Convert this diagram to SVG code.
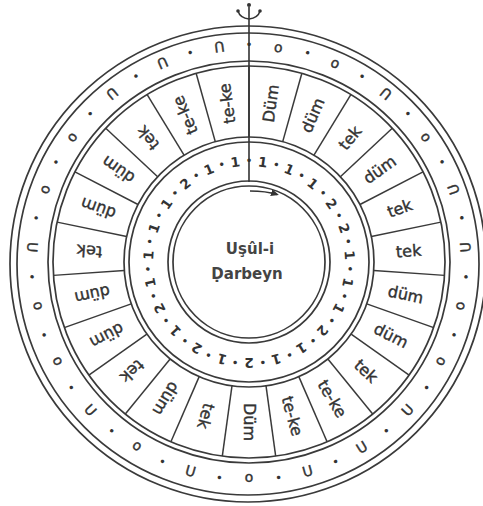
<svg xmlns="http://www.w3.org/2000/svg" width="483" height="506" viewBox="0 0 483 506">
<defs>
<style>
.ring{fill:none;stroke:#3a3a3a;stroke-width:1.7}
.div{stroke:#3a3a3a;stroke-width:1.5}
.lbl{font-family:"DejaVu Sans",sans-serif;font-size:16px;fill:#333;stroke:#333;stroke-width:0.4;text-anchor:middle;dominant-baseline:central}
.num{font-family:"DejaVu Sans",sans-serif;font-size:13.5px;font-weight:bold;fill:#333;text-anchor:middle;dominant-baseline:central}
.sym{font-family:"DejaVu Sans",sans-serif;font-size:14px;fill:#333;stroke:#333;stroke-width:0.4;text-anchor:middle;dominant-baseline:central}
.dot{font-family:"DejaVu Sans",sans-serif;font-size:12px;fill:#333;text-anchor:middle;dominant-baseline:central}
.ctr{font-family:"DejaVu Sans",sans-serif;font-size:15px;font-weight:bold;fill:#444;text-anchor:middle}
</style>
<marker id="ah" markerWidth="9" markerHeight="9" refX="6" refY="4.5" orient="auto" markerUnits="userSpaceOnUse">
<path d="M0,1 L8,4.5 L0,8 Z" fill="#333"/>
</marker>
</defs>
<rect width="483" height="506" fill="#fff"/>

<g id="rings">
<circle class="ring" cx="248" cy="264" r="238"/>
<circle class="ring" cx="248" cy="264" r="231"/>
<circle class="ring" cx="249" cy="262" r="201"/>
<circle class="ring" cx="249" cy="262" r="196"/>
<circle class="ring" cx="249" cy="262" r="125"/>
<circle class="ring" cx="249" cy="262" r="120"/>
<circle class="ring" cx="249" cy="262" r="81"/>
<circle class="ring" cx="249" cy="262" r="76"/>
</g>

<g id="connectors">
<g class="div">
<line x1="249" y1="137" x2="249" y2="66" transform="rotate(0 249 262)"/>
<line x1="249" y1="137" x2="249" y2="66" transform="rotate(15.652 249 262)"/>
<line x1="249" y1="137" x2="249" y2="66" transform="rotate(31.304 249 262)"/>
<line x1="249" y1="137" x2="249" y2="66" transform="rotate(46.957 249 262)"/>
<line x1="249" y1="137" x2="249" y2="66" transform="rotate(62.609 249 262)"/>
<line x1="249" y1="137" x2="249" y2="66" transform="rotate(78.261 249 262)"/>
<line x1="249" y1="137" x2="249" y2="66" transform="rotate(93.913 249 262)"/>
<line x1="249" y1="137" x2="249" y2="66" transform="rotate(109.565 249 262)"/>
<line x1="249" y1="137" x2="249" y2="66" transform="rotate(125.217 249 262)"/>
<line x1="249" y1="137" x2="249" y2="66" transform="rotate(140.870 249 262)"/>
<line x1="249" y1="137" x2="249" y2="66" transform="rotate(156.522 249 262)"/>
<line x1="249" y1="137" x2="249" y2="66" transform="rotate(172.174 249 262)"/>
<line x1="249" y1="137" x2="249" y2="66" transform="rotate(187.826 249 262)"/>
<line x1="249" y1="137" x2="249" y2="66" transform="rotate(203.478 249 262)"/>
<line x1="249" y1="137" x2="249" y2="66" transform="rotate(219.130 249 262)"/>
<line x1="249" y1="137" x2="249" y2="66" transform="rotate(234.783 249 262)"/>
<line x1="249" y1="137" x2="249" y2="66" transform="rotate(250.435 249 262)"/>
<line x1="249" y1="137" x2="249" y2="66" transform="rotate(266.087 249 262)"/>
<line x1="249" y1="137" x2="249" y2="66" transform="rotate(281.739 249 262)"/>
<line x1="249" y1="137" x2="249" y2="66" transform="rotate(297.391 249 262)"/>
<line x1="249" y1="137" x2="249" y2="66" transform="rotate(313.043 249 262)"/>
<line x1="249" y1="137" x2="249" y2="66" transform="rotate(328.696 249 262)"/>
<line x1="249" y1="137" x2="249" y2="66" transform="rotate(344.348 249 262)"/>
</g>
<line x1="249" y1="7" x2="249" y2="182" stroke="#333" stroke-width="1.6"/>
<path d="M249,19 Q240,18 238,11 M249,19 Q258,18 260,11" fill="none" stroke="#333" stroke-width="1.5"/>
<circle cx="249" cy="5" r="2" fill="#333"/>
<circle cx="238" cy="11" r="1.8" fill="#333"/>
<circle cx="260" cy="11" r="1.8" fill="#333"/>
<path d="M250,191 Q266,191 277,194.5" fill="none" stroke="#333" stroke-width="1.5" marker-end="url(#ah)"/>
</g>

<g id="labels">
<text class="lbl" transform="rotate(7.826 249 262) translate(249 102) rotate(-90)">Düm</text>
<text class="lbl" transform="rotate(23.478 249 262) translate(249 102) rotate(-90)">düm</text>
<text class="lbl" transform="rotate(39.130 249 262) translate(249 102) rotate(-90)">tek</text>
<text class="lbl" transform="rotate(54.783 249 262) translate(249 102) rotate(-90)">düm</text>
<text class="lbl" transform="rotate(70.435 249 262) translate(249 102) rotate(-90)">tek</text>
<text class="lbl" transform="rotate(86.087 249 262) translate(249 102) rotate(-90)">tek</text>
<text class="lbl" transform="rotate(101.739 249 262) translate(249 102) rotate(-90)">düm</text>
<text class="lbl" transform="rotate(117.391 249 262) translate(249 102) rotate(-90)">düm</text>
<text class="lbl" transform="rotate(133.043 249 262) translate(249 102) rotate(-90)">tek</text>
<text class="lbl" transform="rotate(148.696 249 262) translate(249 102) rotate(-90)">te-ke</text>
<text class="lbl" transform="rotate(164.348 249 262) translate(249 102) rotate(-90)">te-ke</text>
<text class="lbl" transform="rotate(180 249 262) translate(249 102) rotate(-90)">Düm</text>
<text class="lbl" transform="rotate(195.652 249 262) translate(249 102) rotate(-90)">tek</text>
<text class="lbl" transform="rotate(211.304 249 262) translate(249 102) rotate(-90)">düm</text>
<text class="lbl" transform="rotate(226.957 249 262) translate(249 102) rotate(-90)">tek</text>
<text class="lbl" transform="rotate(242.609 249 262) translate(249 102) rotate(-90)">düm</text>
<text class="lbl" transform="rotate(258.261 249 262) translate(249 102) rotate(-90)">düm</text>
<text class="lbl" transform="rotate(273.913 249 262) translate(249 102) rotate(-90)">tek</text>
<text class="lbl" transform="rotate(289.565 249 262) translate(249 102) rotate(-90)">düm</text>
<text class="lbl" transform="rotate(305.217 249 262) translate(249 102) rotate(-90)">düm</text>
<text class="lbl" transform="rotate(320.870 249 262) translate(249 102) rotate(-90)">tek</text>
<text class="lbl" transform="rotate(336.522 249 262) translate(249 102) rotate(-90)">te-ke</text>
<text class="lbl" transform="rotate(352.174 249 262) translate(249 102) rotate(-90)">te-ke</text>
</g>

<g id="numbers">
<text class="num" x="249" y="161" transform="rotate(7.826 249 262)">1</text>
<text class="num" x="249" y="161" transform="rotate(23.478 249 262)">1</text>
<text class="num" x="249" y="161" transform="rotate(39.130 249 262)">1</text>
<text class="num" x="249" y="161" transform="rotate(54.783 249 262)">2</text>
<text class="num" x="249" y="161" transform="rotate(70.435 249 262)">2</text>
<text class="num" x="249" y="161" transform="rotate(86.087 249 262)">1</text>
<text class="num" x="249" y="161" transform="rotate(101.739 249 262)">1</text>
<text class="num" x="249" y="161" transform="rotate(117.391 249 262)">1</text>
<text class="num" x="249" y="161" transform="rotate(133.043 249 262)">2</text>
<text class="num" x="249" y="161" transform="rotate(148.696 249 262)">1</text>
<text class="num" x="249" y="161" transform="rotate(164.348 249 262)">1</text>
<text class="num" x="249" y="161" transform="rotate(180 249 262)">2</text>
<text class="num" x="249" y="161" transform="rotate(195.652 249 262)">1</text>
<text class="num" x="249" y="161" transform="rotate(211.304 249 262)">2</text>
<text class="num" x="249" y="161" transform="rotate(226.957 249 262)">1</text>
<text class="num" x="249" y="161" transform="rotate(242.609 249 262)">2</text>
<text class="num" x="249" y="161" transform="rotate(258.261 249 262)">1</text>
<text class="num" x="249" y="161" transform="rotate(273.913 249 262)">1</text>
<text class="num" x="249" y="161" transform="rotate(289.565 249 262)">1</text>
<text class="num" x="249" y="161" transform="rotate(305.217 249 262)">1</text>
<text class="num" x="249" y="161" transform="rotate(320.870 249 262)">2</text>
<text class="num" x="249" y="161" transform="rotate(336.522 249 262)">1</text>
<text class="num" x="249" y="161" transform="rotate(352.174 249 262)">1</text>
<g class="dot">
<text x="249" y="161" transform="rotate(0 249 262)">•</text>
<text x="249" y="161" transform="rotate(15.652 249 262)">•</text>
<text x="249" y="161" transform="rotate(31.304 249 262)">•</text>
<text x="249" y="161" transform="rotate(46.957 249 262)">•</text>
<text x="249" y="161" transform="rotate(62.609 249 262)">•</text>
<text x="249" y="161" transform="rotate(78.261 249 262)">•</text>
<text x="249" y="161" transform="rotate(93.913 249 262)">•</text>
<text x="249" y="161" transform="rotate(109.565 249 262)">•</text>
<text x="249" y="161" transform="rotate(125.217 249 262)">•</text>
<text x="249" y="161" transform="rotate(140.870 249 262)">•</text>
<text x="249" y="161" transform="rotate(156.522 249 262)">•</text>
<text x="249" y="161" transform="rotate(172.174 249 262)">•</text>
<text x="249" y="161" transform="rotate(187.826 249 262)">•</text>
<text x="249" y="161" transform="rotate(203.478 249 262)">•</text>
<text x="249" y="161" transform="rotate(219.130 249 262)">•</text>
<text x="249" y="161" transform="rotate(234.783 249 262)">•</text>
<text x="249" y="161" transform="rotate(250.435 249 262)">•</text>
<text x="249" y="161" transform="rotate(266.087 249 262)">•</text>
<text x="249" y="161" transform="rotate(281.739 249 262)">•</text>
<text x="249" y="161" transform="rotate(297.391 249 262)">•</text>
<text x="249" y="161" transform="rotate(313.043 249 262)">•</text>
<text x="249" y="161" transform="rotate(328.696 249 262)">•</text>
<text x="249" y="161" transform="rotate(344.348 249 262)">•</text>
</g>
</g>

<g id="symbols">
<text class="sym" x="249" y="45" transform="rotate(7.826 249 262)">o</text>
<text class="sym" x="249" y="45" transform="rotate(23.478 249 262)">o</text>
<text class="sym" x="249" y="45" transform="rotate(39.130 249 262) rotate(180 249 45)">U</text>
<text class="sym" x="249" y="45" transform="rotate(54.783 249 262)">o</text>
<text class="sym" x="249" y="45" transform="rotate(70.435 249 262) rotate(180 249 45)">U</text>
<text class="sym" x="249" y="45" transform="rotate(86.087 249 262) rotate(180 249 45)">U</text>
<text class="sym" x="249" y="45" transform="rotate(101.739 249 262)">o</text>
<text class="sym" x="249" y="45" transform="rotate(117.391 249 262)">o</text>
<text class="sym" x="249" y="45" transform="rotate(133.043 249 262) rotate(180 249 45)">U</text>
<text class="sym" x="249" y="45" transform="rotate(148.696 249 262) rotate(180 249 45)">U</text>
<text class="sym" x="249" y="45" transform="rotate(164.348 249 262) rotate(180 249 45)">U</text>
<text class="sym" x="249" y="45" transform="rotate(180 249 262)">o</text>
<text class="sym" x="249" y="45" transform="rotate(195.652 249 262) rotate(180 249 45)">U</text>
<text class="sym" x="249" y="45" transform="rotate(211.304 249 262)">o</text>
<text class="sym" x="249" y="45" transform="rotate(226.957 249 262) rotate(180 249 45)">U</text>
<text class="sym" x="249" y="45" transform="rotate(242.609 249 262)">o</text>
<text class="sym" x="249" y="45" transform="rotate(258.261 249 262)">o</text>
<text class="sym" x="249" y="45" transform="rotate(273.913 249 262) rotate(180 249 45)">U</text>
<text class="sym" x="249" y="45" transform="rotate(289.565 249 262)">o</text>
<text class="sym" x="249" y="45" transform="rotate(305.217 249 262)">o</text>
<text class="sym" x="249" y="45" transform="rotate(320.870 249 262) rotate(180 249 45)">U</text>
<text class="sym" x="249" y="45" transform="rotate(336.522 249 262) rotate(180 249 45)">U</text>
<text class="sym" x="249" y="45" transform="rotate(352.174 249 262) rotate(180 249 45)">U</text>
<g class="dot">
<text x="249" y="45" transform="rotate(0 249 262)">•</text>
<text x="249" y="45" transform="rotate(15.652 249 262)">•</text>
<text x="249" y="45" transform="rotate(31.304 249 262)">•</text>
<text x="249" y="45" transform="rotate(46.957 249 262)">•</text>
<text x="249" y="45" transform="rotate(62.609 249 262)">•</text>
<text x="249" y="45" transform="rotate(78.261 249 262)">•</text>
<text x="249" y="45" transform="rotate(93.913 249 262)">•</text>
<text x="249" y="45" transform="rotate(109.565 249 262)">•</text>
<text x="249" y="45" transform="rotate(125.217 249 262)">•</text>
<text x="249" y="45" transform="rotate(140.870 249 262)">•</text>
<text x="249" y="45" transform="rotate(156.522 249 262)">•</text>
<text x="249" y="45" transform="rotate(172.174 249 262)">•</text>
<text x="249" y="45" transform="rotate(187.826 249 262)">•</text>
<text x="249" y="45" transform="rotate(203.478 249 262)">•</text>
<text x="249" y="45" transform="rotate(219.130 249 262)">•</text>
<text x="249" y="45" transform="rotate(234.783 249 262)">•</text>
<text x="249" y="45" transform="rotate(250.435 249 262)">•</text>
<text x="249" y="45" transform="rotate(266.087 249 262)">•</text>
<text x="249" y="45" transform="rotate(281.739 249 262)">•</text>
<text x="249" y="45" transform="rotate(297.391 249 262)">•</text>
<text x="249" y="45" transform="rotate(313.043 249 262)">•</text>
<text x="249" y="45" transform="rotate(328.696 249 262)">•</text>
<text x="249" y="45" transform="rotate(344.348 249 262)">•</text>
</g>
</g>

<g id="center">
<text class="ctr" x="250" y="254">Uşûl-i</text>
<text class="ctr" x="247" y="279">Ḍarbeyn</text>
</g>
</svg>
